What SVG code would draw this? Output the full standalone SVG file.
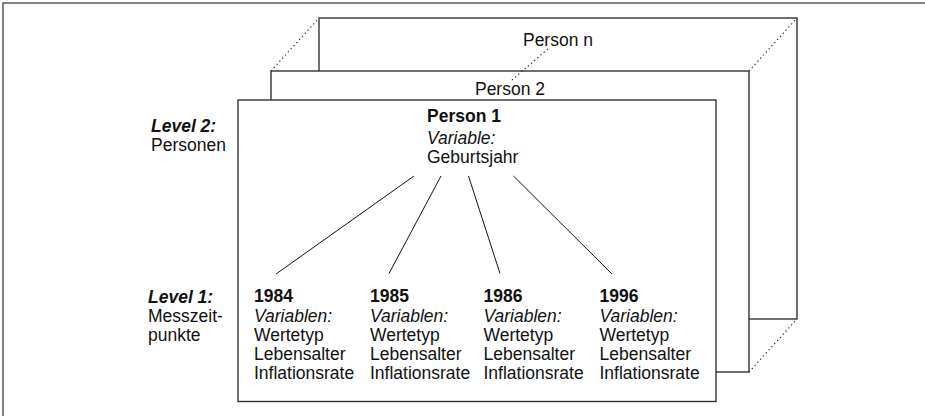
<svg xmlns="http://www.w3.org/2000/svg" width="925" height="416" viewBox="0 0 925 416">
<style>
  .frame { stroke: #5a5a5a; stroke-width: 1.5; fill: none; }
  .box { fill: #ffffff; stroke: #333333; stroke-width: 1.4; }
  .dot { stroke: #222222; stroke-width: 1.2; stroke-dasharray: 1.2 3; fill: none; }
  .conn { stroke: #111111; stroke-width: 1; fill: none; }
  text { font-family: "Liberation Sans", Arial, Helvetica, sans-serif; font-size: 17.5px; fill: #111111; }
  .b { font-weight: bold; }
  .i { font-style: italic; }
  .bi { font-weight: bold; font-style: italic; }
</style>
<rect x="0" y="0" width="925" height="416" fill="#ffffff"/>
<g id="frame">
  <path class="frame" d="M3 416 V3 H925"/>
</g>
<g id="person-n">
  <rect class="box" x="319" y="18" width="478" height="301"/>
  <text x="558" y="46" text-anchor="middle">Person n</text>
</g>
<g id="depth-lines">
  <line class="dot" x1="271" y1="71" x2="319" y2="18"/>
  <line class="dot" x1="749" y1="71" x2="797" y2="18"/>
  <line class="dot" x1="749" y1="372" x2="797" y2="319"/>
</g>
<g id="person-2">
  <rect class="box" x="271" y="71" width="478" height="301"/>
  <line class="dot" x1="512" y1="80" x2="550" y2="47"/>
  <text x="510" y="95" text-anchor="middle">Person 2</text>
</g>
<g id="person-1">
  <rect class="box" x="238" y="100" width="478" height="301.5"/>
</g>
<g id="level-2">
  <text class="bi" x="151" y="132">Level 2:</text>
  <text x="151" y="151">Personen</text>
</g>
<g id="level-1">
  <text class="bi" x="148" y="303">Level 1:</text>
  <text x="148" y="322">Messzeit-</text>
  <text x="148" y="341">punkte</text>
</g>
<g id="person-1-label">
  <text class="b" x="427" y="122">Person 1</text>
  <text class="i" x="427" y="144">Variable:</text>
  <text x="427" y="163">Geburtsjahr</text>
</g>
<g id="connectors">
  <line class="conn" x1="414" y1="176" x2="276" y2="274"/>
  <line class="conn" x1="441" y1="176" x2="389" y2="273.5"/>
  <line class="conn" x1="468.5" y1="176" x2="500" y2="273.5"/>
  <line class="conn" x1="513.5" y1="176" x2="612" y2="274"/>
</g>
<g id="t1984">
  <text class="b" x="254" y="302">1984</text>
  <text class="i" x="254" y="322">Variablen:</text>
  <text x="254" y="341">Wertetyp</text>
  <text x="254" y="360">Lebensalter</text>
  <text x="254" y="379">Inflationsrate</text>
</g>
<g id="t1985">
  <text class="b" x="370" y="302">1985</text>
  <text class="i" x="370" y="322">Variablen:</text>
  <text x="370" y="341">Wertetyp</text>
  <text x="370" y="360">Lebensalter</text>
  <text x="370" y="379">Inflationsrate</text>
</g>
<g id="t1986">
  <text class="b" x="483.5" y="302">1986</text>
  <text class="i" x="483.5" y="322">Variablen:</text>
  <text x="483.5" y="341">Wertetyp</text>
  <text x="483.5" y="360">Lebensalter</text>
  <text x="483.5" y="379">Inflationsrate</text>
</g>
<g id="t1996">
  <text class="b" x="599.5" y="302">1996</text>
  <text class="i" x="599.5" y="322">Variablen:</text>
  <text x="599.5" y="341">Wertetyp</text>
  <text x="599.5" y="360">Lebensalter</text>
  <text x="599.5" y="379">Inflationsrate</text>
</g>
</svg>
